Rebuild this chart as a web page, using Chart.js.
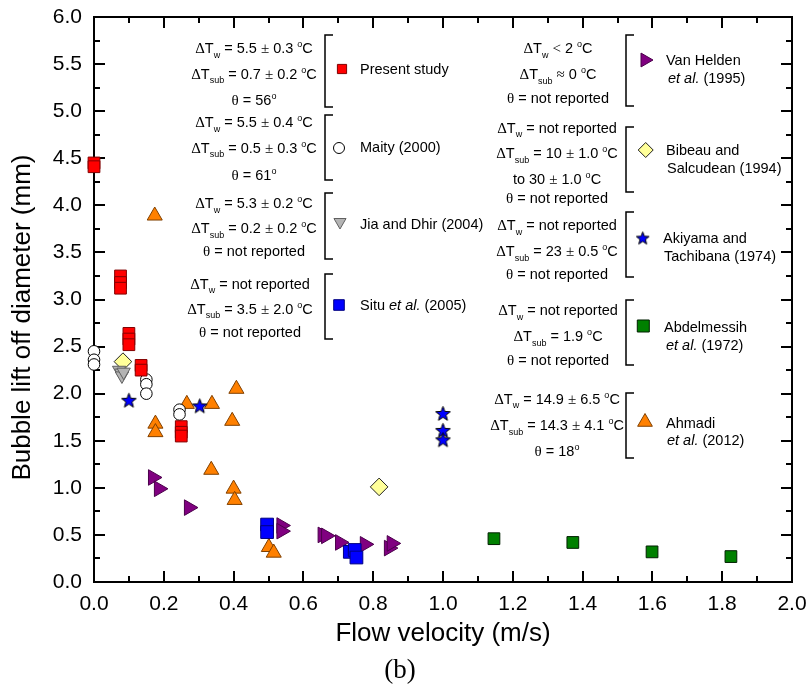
<!DOCTYPE html>
<html>
<head>
<meta charset="utf-8">
<script src="https://cdn.jsdelivr.net/npm/chart.js@4.4.0/dist/chart.umd.min.js"></script>
<style>
  html, body { margin: 0; padding: 0; background: #fff; }
</style>
</head>
<body>
<canvas id="chart" width="808" height="690"></canvas>
<script>
// values (x: flow velocity m/s, y: lift off diameter mm)
const presentX = [0.0, 0.0, 0.076, 0.076, 0.076, 0.10, 0.10, 0.10, 0.135, 0.135, 0.25, 0.25, 0.25];
const presentY = [4.45, 4.41, 3.25, 3.18, 3.12, 2.64, 2.58, 2.52, 2.30, 2.25, 1.65, 1.59, 1.55];
const maityX = [0.0, 0.0, 0.0, 0.15, 0.15, 0.15, 0.245, 0.245];
const maityY = [2.45, 2.36, 2.31, 2.15, 2.10, 2.00, 1.83, 1.78];
const jiaX = [0.072, 0.078, 0.080, 0.085];
const jiaY = [2.25, 2.22, 2.19, 2.23];
const situX = [0.496, 0.496, 0.733, 0.747, 0.752];
const situY = [0.61, 0.53, 0.32, 0.34, 0.26];
const vanHeldenX = [0.169, 0.186, 0.272, 0.537, 0.537, 0.655, 0.665, 0.705, 0.776, 0.845, 0.853];
const vanHeldenY = [1.11, 0.99, 0.79, 0.60, 0.54, 0.50, 0.49, 0.42, 0.40, 0.36, 0.41];
const bibeauX = [0.083, 0.817];
const bibeauY = [2.34, 1.01];
const akiyamaX = [0.10, 0.303, 1.0, 1.0, 1.0];
const akiyamaY = [1.93, 1.87, 1.79, 1.61, 1.51];
const abdelX = [1.146, 1.372, 1.599, 1.825];
const abdelY = [0.46, 0.42, 0.32, 0.27];
const ahmadiX = [0.174, 0.176, 0.176, 0.266, 0.338, 0.408, 0.396, 0.336, 0.40, 0.403, 0.501, 0.515];
const ahmadiY = [3.89, 1.68, 1.59, 1.89, 1.89, 2.05, 1.71, 1.19, 0.99, 0.87, 0.37, 0.31];

const xTicks = [0, 0.2, 0.4, 0.6, 0.8, 1.0, 1.2, 1.4, 1.6, 1.8, 2.0];
const yTicks = [0, 0.5, 1.0, 1.5, 2.0, 2.5, 3.0, 3.5, 4.0, 4.5, 5.0, 5.5, 6.0];

const SANS = '"Liberation Sans", Arial, sans-serif';
const SERIF = '"Liberation Serif", "Times New Roman", serif';
Chart.defaults.font.family = SANS;
Chart.defaults.color = '#000';

const pts = (xs, ys) => xs.map((x, i) => ({ x: x, y: ys[i] }));

function makeStar(size) {
  const c = document.createElement('canvas');
  c.width = c.height = size;
  const g = c.getContext('2d');
  const cx = size / 2, cy = size / 2 + 0.6;
  const R = size / 2 - 0.8, r = R * 0.42;
  g.beginPath();
  for (let i = 0; i < 10; i++) {
    const a = -Math.PI / 2 + i * Math.PI / 5;
    const rr = i % 2 ? r : R;
    g.lineTo(cx + rr * Math.cos(a), cy + rr * Math.sin(a));
  }
  g.closePath();
  g.fillStyle = '#0000ff';
  g.fill();
  g.lineWidth = 1;
  g.strokeStyle = '#000';
  g.stroke();
  return c;
}
const starBig = makeStar(17);
const starSmall = makeStar(15);

function series(label, xs, ys, style) {
  return Object.assign({
    label: label,
    data: pts(xs, ys),
    borderWidth: 1,
    pointBorderWidth: 1,
    pointRotation: 0,
    clip: false
  }, style);
}

const datasets = [
  series('Present study', presentX, presentY, { pointStyle: 'rect', pointRadius: 8.3, backgroundColor: '#ff0000', borderColor: '#800000' }),
  series('Maity (2000)', maityX, maityY, { pointStyle: 'circle', pointRadius: 5.8, backgroundColor: '#ffffff', borderColor: '#000000' }),
  series('Jia and Dhir (2004)', jiaX, jiaY, { pointStyle: 'triangle', pointRotation: 180, pointRadius: 7.7, backgroundColor: '#b4b4b4', borderColor: '#606060' }),
  series('Situ et al. (2005)', situX, situY, { pointStyle: 'rect', pointRadius: 9, backgroundColor: '#0000ff', borderColor: '#000080' }),
  series('Van Helden et al. (1995)', vanHeldenX, vanHeldenY, { pointStyle: 'triangle', pointRotation: 90, pointRadius: 9, backgroundColor: '#800080', borderColor: '#4a004a' }),
  series('Bibeau and Salcudean (1994)', bibeauX, bibeauY, { pointStyle: 'rectRot', pointRadius: 8.8, backgroundColor: '#ffff99', borderColor: '#202020' }),
  series('Akiyama and Tachibana (1974)', akiyamaX, akiyamaY, { pointStyle: starBig, pointRadius: 8, backgroundColor: '#0000ff', borderColor: '#000' }),
  series('Abdelmessih et al. (1972)', abdelX, abdelY, { pointStyle: 'rect', pointRadius: 8.3, backgroundColor: '#008000', borderColor: '#002000' }),
  series('Ahmadi et al. (2012)', ahmadiX, ahmadiY, { pointStyle: 'triangle', pointRadius: 8.7, backgroundColor: '#ff8000', borderColor: '#804000' })
];
// earlier entries on top
datasets.forEach((d, i) => { d.order = i; });

// condition notes beside each legend entry
const notes = [
  { cx: 254, bx: 325, bt: 35, bb: 107, lines: ['ΔT_{w} = 5.5 ± 0.3 ^{o}C', 'ΔT_{sub} = 0.7 ± 0.2 ^{o}C', 'θ = 56^{o}'], ly: [48, 73.5, 99.7],
    ds: 0, mr: 6.5, mx: 342, my: 69, labels: ['Present study'], lx: [360], lyy: [69] },
  { cx: 254, bx: 325, bt: 115, bb: 180, lines: ['ΔT_{w} = 5.5 ± 0.4 ^{o}C', 'ΔT_{sub} = 0.5 ± 0.3 ^{o}C', 'θ = 61^{o}'], ly: [122, 147.5, 174.5],
    ds: 1, mr: 5.5, mx: 339, my: 148, labels: ['Maity (2000)'], lx: [360], lyy: [147] },
  { cx: 254, bx: 325, bt: 193, bb: 259, lines: ['ΔT_{w} = 5.3 ± 0.2 ^{o}C', 'ΔT_{sub} = 0.2 ± 0.2 ^{o}C', 'θ = not reported'], ly: [203, 228, 250.5],
    ds: 2, mr: 7, mx: 340, my: 222, labels: ['Jia and Dhir (2004)'], lx: [360], lyy: [223.5] },
  { cx: 250, bx: 325, bt: 274, bb: 339, lines: ['ΔT_{w} = not reported', 'ΔT_{sub} = 3.5 ± 2.0 ^{o}C', 'θ = not reported'], ly: [283.5, 308.7, 332],
    ds: 3, mr: 7.5, mx: 339, my: 305, labels: ['Situ *et al.* (2005)'], lx: [360], lyy: [305] },
  { cx: 558, bx: 626, bt: 35, bb: 106, lines: ['ΔT_{w} < 2 ^{o}C', 'ΔT_{sub} ≈ 0 ^{o}C', 'θ = not reported'], ly: [48, 74, 97.5],
    ds: 4, mr: 8, mx: 645, my: 60, labels: ['Van Helden', '*et al.* (1995)'], lx: [666, 668], lyy: [59.5, 78] },
  { cx: 557, bx: 626, bt: 127, bb: 192, lines: ['ΔT_{w} = not reported', 'ΔT_{sub} = 10 ± 1.0 ^{o}C', 'to 30 ± 1.0 ^{o}C', 'θ = not reported'], ly: [127.5, 153, 178.5, 197.5],
    ds: 5, mr: 7.5, mx: 645.7, my: 150, labels: ['Bibeau and', 'Salcudean (1994)'], lx: [666, 667], lyy: [150, 168] },
  { cx: 557, bx: 626, bt: 212, bb: 277, lines: ['ΔT_{w} = not reported', 'ΔT_{sub} = 23 ± 0.5 ^{o}C', 'θ = not reported'], ly: [225, 251, 274],
    ds: 6, mr: 7, mx: 642.7, my: 238, labels: ['Akiyama and', 'Tachibana (1974)'], lx: [663, 664], lyy: [238, 256] },
  { cx: 558, bx: 626, bt: 300, bb: 365, lines: ['ΔT_{w} = not reported', 'ΔT_{sub} = 1.9 ^{o}C', 'θ = not reported'], ly: [310, 336, 360],
    ds: 7, mr: 8.5, mx: 643.3, my: 326, labels: ['Abdelmessih', '*et al.* (1972)'], lx: [664, 666], lyy: [327, 344.5] },
  { cx: 557, bx: 626, bt: 393, bb: 458, lines: ['ΔT_{w} = 14.9 ± 6.5 ^{o}C', 'ΔT_{sub} = 14.3 ± 4.1 ^{o}C', 'θ = 18^{o}'], ly: [398.5, 425, 451],
    ds: 8, mr: 8.5, mx: 645, my: 422, labels: ['Ahmadi', '*et al.* (2012)'], lx: [666, 667], lyy: [422.5, 440] }
];

const SERIF_CHARS = 'Δθ±≈<';
const FS = 14.5;

// split "ΔT_{w} = 5 ^{o}C" / "*et al.*" into styled runs
function parseRich(s) {
  const runs = [];
  let buf = '', italic = false, i = 0;
  const flush = () => {
    for (const ch of buf) {
      const serif = SERIF_CHARS.includes(ch);
      const last = runs[runs.length - 1];
      if (last && last.k === 'n' && last.serif === serif && last.italic === italic) last.t += ch;
      else runs.push({ t: ch, k: 'n', serif: serif, italic: italic });
    }
    buf = '';
  };
  while (i < s.length) {
    const c = s[i];
    if ((c === '_' || c === '^') && s[i + 1] === '{') {
      flush();
      const end = s.indexOf('}', i);
      runs.push({ t: s.slice(i + 2, end), k: c === '_' ? 'sub' : 'sup' });
      i = end + 1;
    } else if (c === '*') {
      flush();
      italic = !italic;
      i++;
    } else {
      buf += c;
      i++;
    }
  }
  flush();
  return runs;
}

function runFont(r) {
  if (r.k === 'sub' || r.k === 'sup') return '9px ' + SANS;
  if (r.serif) return (FS + 0.5) + 'px ' + SERIF;
  return (r.italic ? 'italic ' : '') + FS + 'px ' + SANS;
}

function drawRich(ctx, s, x, midY, align) {
  const runs = parseRich(s);
  let w = 0;
  runs.forEach(r => { ctx.font = runFont(r); r.w = ctx.measureText(r.t).width; w += r.w; });
  let px = align === 'center' ? x - w / 2 : x;
  const base = midY + FS * 0.358;
  ctx.textAlign = 'left';
  ctx.textBaseline = 'alphabetic';
  runs.forEach(r => {
    ctx.font = runFont(r);
    let dy = 0;
    if (r.k === 'sub') dy = 4.5;
    if (r.k === 'sup') dy = -6;
    ctx.fillText(r.t, px, base + dy);
    px += r.w;
  });
}

const frame = {
  id: 'frame',
  beforeDatasetsDraw(chart) {
    const { ctx, chartArea: a, scales: { x, y } } = chart;
    ctx.save();
    ctx.strokeStyle = '#000';
    ctx.lineWidth = 2;
    ctx.strokeRect(a.left, a.top, a.right - a.left, a.bottom - a.top);
    ctx.beginPath();
    for (let i = 0; i <= 20; i++) {
      const px = Math.round(x.getPixelForValue(i * 0.1));
      const len = i % 2 === 0 ? 11 : 6;
      ctx.moveTo(px, a.bottom); ctx.lineTo(px, a.bottom - len);
      ctx.moveTo(px, a.top); ctx.lineTo(px, a.top + len);
    }
    for (let i = 0; i <= 24; i++) {
      const py = Math.round(y.getPixelForValue(i * 0.25));
      const len = i % 2 === 0 ? 11 : 6;
      ctx.moveTo(a.left, py); ctx.lineTo(a.left + len, py);
      ctx.moveTo(a.right, py); ctx.lineTo(a.right - len, py);
    }
    ctx.stroke();
    ctx.restore();
  }
};

const annotations = {
  id: 'annotations',
  afterDatasetsDraw(chart) {
    const ctx = chart.ctx;
    ctx.save();
    ctx.fillStyle = '#000';
    notes.forEach(n => {
      n.lines.forEach((l, i) => drawRich(ctx, l, n.cx, n.ly[i], 'center'));
      ctx.strokeStyle = '#000';
      ctx.lineWidth = 1.5;
      ctx.beginPath();
      ctx.moveTo(n.bx + 8, n.bt); ctx.lineTo(n.bx, n.bt); ctx.lineTo(n.bx, n.bb); ctx.lineTo(n.bx + 8, n.bb);
      ctx.stroke();
      const ds = datasets[n.ds];
      ctx.fillStyle = ds.backgroundColor;
      ctx.strokeStyle = ds.borderColor;
      ctx.lineWidth = 1;
      Chart.helpers.drawPoint(ctx, {
        pointStyle: ds.pointStyle === starBig ? starSmall : ds.pointStyle,
        radius: n.mr,
        rotation: ds.pointRotation || 0,
        borderWidth: 1
      }, n.mx, n.my);
      ctx.fillStyle = '#000';
      n.labels.forEach((t, i) => drawRich(ctx, t, n.lx[i], n.lyy[i], 'left'));
    });
    // panel letter
    ctx.font = '27px ' + SERIF;
    ctx.textAlign = 'center';
    ctx.textBaseline = 'middle';
    ctx.fillText('(b)', 400, 671);
    ctx.restore();
  }
};

new Chart(document.getElementById('chart'), {
  type: 'scatter',
  data: { datasets: datasets },
  options: {
    responsive: false,
    animation: false,
    devicePixelRatio: 1,
    layout: { padding: { top: 17, right: 16, left: 0, bottom: 0 } },
    plugins: { legend: { display: false }, tooltip: { enabled: false } },
    scales: {
      x: {
        type: 'linear',
        min: 0,
        max: 2,
        afterBuildTicks(scale) { scale.ticks = xTicks.map(v => ({ value: v })); },
        afterFit(scale) {
          scale.height = 108;
          scale.paddingLeft = 0;
          scale.paddingRight = 0;
        },
        ticks: { callback: v => v.toFixed(1), font: { size: 21 }, color: '#000', padding: 10, maxRotation: 0, autoSkip: false },
        grid: { display: false, drawTicks: false },
        border: { display: false },
        title: { display: true, text: 'Flow velocity (m/s)', color: '#000', font: { size: 26, lineHeight: 1 }, padding: { top: 0, bottom: 43 } }
      },
      y: {
        type: 'linear',
        min: 0,
        max: 6,
        afterBuildTicks(scale) { scale.ticks = yTicks.map(v => ({ value: v })); },
        afterFit(scale) {
          scale.width = 94;
          scale.paddingTop = 0;
          scale.paddingBottom = 0;
        },
        ticks: { callback: v => v.toFixed(1), font: { size: 21 }, color: '#000', padding: 12 },
        grid: { display: false, drawTicks: false },
        border: { display: false },
        title: { display: true, text: 'Bubble lift off diameter (mm)     ', color: '#000', font: { size: 26, lineHeight: 1 }, padding: { top: 10, bottom: 0 } }
      }
    }
  },
  plugins: [frame, annotations]
});
</script>
</body>
</html>
